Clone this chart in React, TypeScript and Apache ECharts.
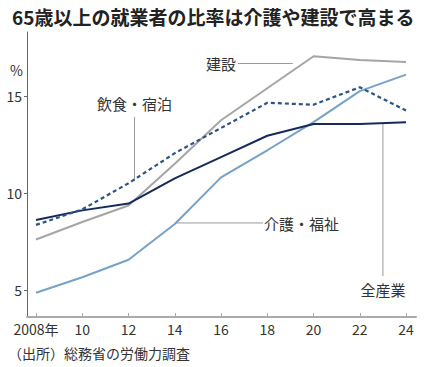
import React, { useEffect, useRef } from "react";
import * as echarts from "echarts";

const years = [2008, 2010, 2012, 2014, 2016, 2018, 2020, 2022, 2024];
const yTicks = [5, 10, 15];
const construction = [7.6, 8.5, 9.35, 11.5, 13.75, 15.4, 17.05, 16.85, 16.75];
const foodLodging = [8.35, 9.15, 10.5, 12.05, 13.35, 14.65, 14.55, 15.45, 14.25];
const allIndustries = [8.6, 9.1, 9.45, 10.75, 11.85, 12.95, 13.55, 13.55, 13.65];
const careWelfare = [4.85, 5.65, 6.55, 8.4, 10.8, 12.2, 13.65, 15.25, 16.1];

const FONT = "'Noto Sans CJK JP', 'Noto Sans', sans-serif";
const TXT = "#333";

const pairs = (arr: number[]) => years.map((y, i) => [y, arr[i]]);

export default function App() {
  const ref = useRef<HTMLDivElement>(null);
  useEffect(() => {
    if (!ref.current) return;
    const chart = echarts.init(ref.current, null, { renderer: "svg" });
    const lineStyle = (color: string, type: any = "solid", width = 2) => ({ color, type, width });
    chart.setOption({
      animation: false,
      title: {
        text: "65歳以上の就業者の比率は介護や建設で高まる",
        left: 7,
        top: 2,
        textStyle: { fontFamily: FONT, fontSize: 19, fontWeight: "bold", color: "#222" },
      },
      grid: { left: 27, right: 9, top: 32, bottom: 50, containLabel: false },
      xAxis: {
        type: "value",
        min: 2007.61,
        max: 2024.43,
        axisLine: { show: true, lineStyle: { color: "#aaa", width: 2 } },
        axisTick: { show: true, inside: true, length: 4, customValues: years, lineStyle: { color: "#aaa" } },
        axisLabel: {
          customValues: years,
          margin: 5,
          fontFamily: FONT,
          fontSize: 14,
          color: TXT,
          formatter: (v: number) => (v === 2008 ? "2008年" : String(v % 100)),
        },
        splitLine: { show: false },
      },
      yAxis: {
        type: "value",
        min: 3.6,
        max: 18.3,
        axisLine: { show: true, lineStyle: { color: "#666", width: 1 } },
        axisTick: { show: true, length: 3, customValues: yTicks, lineStyle: { color: "#666" } },
        axisLabel: { customValues: yTicks, margin: 5, fontFamily: FONT, fontSize: 14, color: TXT },
        splitLine: { show: false },
      },
      series: [
        { name: "建設", type: "line", data: pairs(construction), symbol: "none", lineStyle: lineStyle("#a5a5a5") },
        { name: "介護・福祉", type: "line", data: pairs(careWelfare), symbol: "none", lineStyle: lineStyle("#76a1c8") },
        { name: "全産業", type: "line", data: pairs(allIndustries), symbol: "none", lineStyle: lineStyle("#15295b") },
        { name: "飲食・宿泊", type: "line", data: pairs(foodLodging), symbol: "none", lineStyle: { color: "#2c5488", type: [4, 3], width: 2.2 } },
      ],
    });

    const px = (x: number, y: number) => chart.convertToPixel({ gridIndex: 0 }, [x, y]) as number[];
    const leader = "#9a9a9a";
    const p2012 = px(2012, foodLodging[2]);
    const p2014 = px(2014, careWelfare[3]);
    const p2023 = px(2023, (allIndustries[7] + allIndustries[8]) / 2);
    const pCon = px(2019.1, (construction[5] + construction[6]) / 2 + 0.45);
    const label = (text: string, x: number, y: number, align: string) => ({
      type: "text",
      x,
      y,
      style: { text, fontFamily: FONT, fontSize: 15, fill: TXT, align, verticalAlign: "middle" },
    });
    chart.setOption({
      graphic: [
        { type: "text", x: 10, y: 70, style: { text: "%", fontFamily: FONT, fontSize: 14, fill: TXT, verticalAlign: "middle" } },
        // 建設
        { type: "line", shape: { x1: 238, y1: pCon[1], x2: pCon[0], y2: pCon[1] }, style: { stroke: leader, lineWidth: 1 } },
        label("建設", 236, pCon[1], "right"),
        // 飲食・宿泊
        { type: "line", shape: { x1: p2012[0] + 6, y1: 117, x2: p2012[0] + 6, y2: p2012[1] - 2 }, style: { stroke: leader, lineWidth: 1 } },
        label("飲食・宿泊", p2012[0] + 6, 103, "center"),
        // 介護・福祉
        { type: "line", shape: { x1: p2014[0], y1: p2014[1] - 1, x2: 263, y2: p2014[1] - 1 }, style: { stroke: leader, lineWidth: 1 } },
        label("介護・福祉", 264, p2014[1], "left"),
        // 全産業
        { type: "line", shape: { x1: p2023[0], y1: p2023[1], x2: p2023[0], y2: 276 }, style: { stroke: leader, lineWidth: 1 } },
        label("全産業", p2023[0], 289, "center"),
        // source
        { type: "text", x: 8, y: 353, style: { text: "（出所）総務省の労働力調査", fontFamily: FONT, fontSize: 14, fill: TXT, verticalAlign: "middle" } },
      ],
    });
    return () => chart.dispose();
  }, []);
  return <div ref={ref} style={{ position: "fixed", left: 0, top: 0, width: 425, height: 367, background: "#fff" }} />;
}
